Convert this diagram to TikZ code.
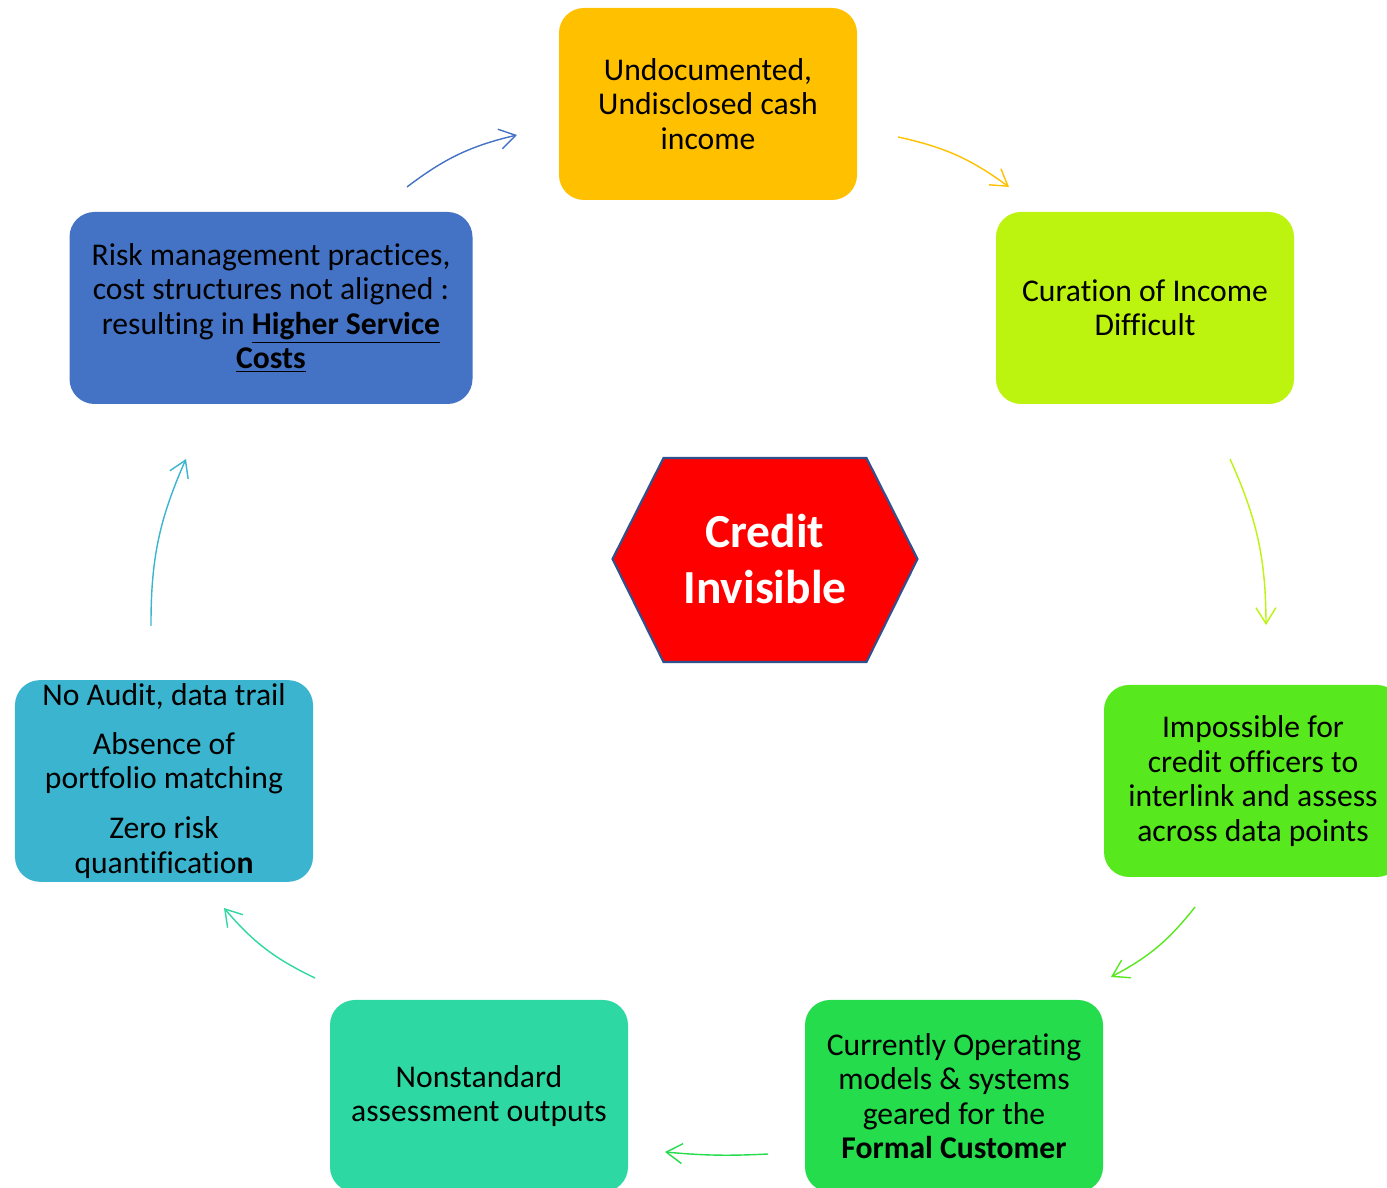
\documentclass[tikz,border=0pt]{standalone}
\usepackage{fontspec}
\setmainfont{Carlito}[Ligatures=NoCommon]
\usepackage{xcolor}
\usepackage{tikz}
\usetikzlibrary{arrows.meta,positioning}
\definecolor{cashorange}{HTML}{FFC000}
\definecolor{curlime}{HTML}{BCF30F}
\definecolor{impgreen}{HTML}{57E81E}
\definecolor{opgreen}{HTML}{24DC4C}
\definecolor{nsteal}{HTML}{2ED8A2}
\definecolor{auditcyan}{HTML}{3BB5CF}
\definecolor{riskblue}{HTML}{4472C4}
\definecolor{hubred}{HTML}{FF0000}
\definecolor{hubline}{HTML}{2F528F}
\tikzset{
  cyc/.style={-{Straight Barb[length=3.2mm,width=4mm]},line width=0.8pt,bend left=12},
  base/.style={rounded corners=5mm,align=center,minimum width=5.96cm,
               minimum height=3.84cm,inner sep=2pt,
               font=\fontsize{18}{19.6}\selectfont},
  hubtext/.style={align=center,text=white,font=\fontsize{27}{32}\selectfont\bfseries}
}
\begin{document}
\begin{tikzpicture}
  \useasboundingbox (0,0) rectangle (27.74,23.76);
  % cycle boxes
  \node[base,fill=cashorange] (cash) at (14.16,21.68) {Undocumented,\\Undisclosed cash\\income};
  \node[base,fill=curlime] (curation) at (22.90,17.60) {Curation of Income\\Difficult};
  \node[base,fill=impgreen] (interlink) at (25.06,8.14) {Impossible for\\credit officers to\\interlink and assess\\across data points};
  \node[base,fill=opgreen] (formal) at (19.08,1.84) {Currently Operating\\models \& systems\\geared for the\\\textbf{Formal Customer}};
  \node[base,fill=nsteal] (nonstd) at (9.58,1.84) {Nonstandard\\assessment outputs};
  \node[base,fill=auditcyan] (audit) at (3.28,8.14) {No Audit, data trail\\[8pt]Absence of\\portfolio matching\\[9pt]Zero risk\\quantificatio\textbf{n}};
  \node[base,fill=riskblue,minimum width=8.06cm] (risk) at (5.42,17.60) {Risk management practices,\\cost structures not aligned :\\resulting in \underline{\textbf{Higher Service}}\\\underline{\textbf{Costs}}};
  % centre hexagon
  \coordinate (mid) at (15.30,12.58);
  \filldraw[fill=hubred,draw=hubline,line width=1.2pt] (mid) ++(-3.05,0) -- ++(1.02,2.02) -- ++(4.06,0)
    -- ++(1.02,-2.02) -- ++(-1.02,-2.06) -- ++(-4.06,0) -- cycle;
  \node[hubtext] (hub) at (mid) {Credit\\Invisible};
  % arrow ends
  \coordinate (a1) at (8.14,20.02);  \coordinate (b1) at (10.34,21.06);
  \coordinate (a2) at (17.96,21.02); \coordinate (b2) at (20.18,20.02);
  \coordinate (a3) at (24.60,14.58); \coordinate (b3) at (25.32,11.26);
  \coordinate (a4) at (23.90,5.62);  \coordinate (b4) at (22.22,4.22);
  \coordinate (a5) at (15.36,0.68);  \coordinate (b5) at (13.30,0.72);
  \coordinate (a6) at (6.30,4.20);   \coordinate (b6) at (4.48,5.60);
  \coordinate (a7) at (3.02,11.24);  \coordinate (b7) at (3.72,14.58);
  \draw[cyc,riskblue] (a1) to (b1);
  \draw[cyc,cashorange] (a2) to (b2);
  \draw[cyc,curlime] (a3) to (b3);
  \draw[cyc,impgreen] (a4) to (b4);
  \draw[cyc,opgreen,bend left=4] (a5) to (b5);
  \draw[cyc,nsteal] (a6) to (b6);
  \draw[cyc,auditcyan] (a7) to (b7);
\end{tikzpicture}
\end{document}
